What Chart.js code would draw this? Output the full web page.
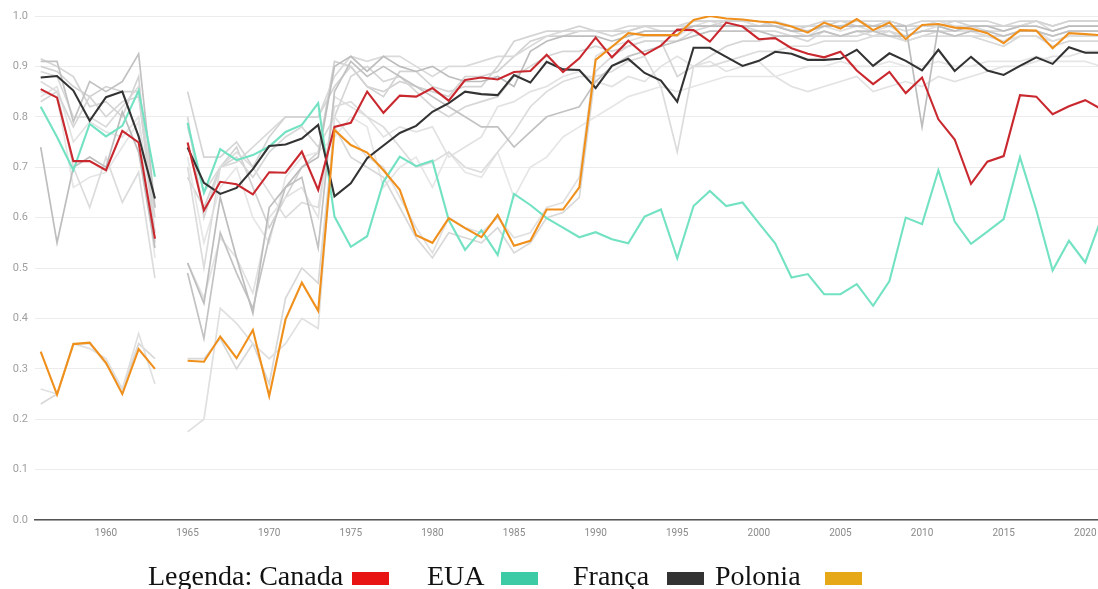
<!DOCTYPE html>
<html>
<head>
<meta charset="utf-8">
<script src="https://cdn.jsdelivr.net/npm/chart.js@4/dist/chart.umd.min.js"></script>
<style>
  html, body { margin: 0; padding: 0; background: #fff; }
  #wrap { position: relative; width: 1098px; height: 589px; }
</style>
</head>
<body>
<div id="wrap"><canvas id="chart"></canvas></div>
<script>
// --- DATA ---
const years = [1956,1957,1958,1959,1960,1961,1962,1963,1964,1965,1966,1967,1968,1969,1970,1971,1972,1973,1974,1975,1976,1977,1978,1979,1980,1981,1982,1983,1984,1985,1986,1987,1988,1989,1990,1991,1992,1993,1994,1995,1996,1997,1998,1999,2000,2001,2002,2003,2004,2005,2006,2007,2008,2009,2010,2011,2012,2013,2014,2015,2016,2017,2018,2019,2020,2021];
const xTicks = [1960,1965,1970,1975,1980,1985,1990,1995,2000,2005,2010,2015,2020];

const canada = [0.855,0.838,0.712,0.712,0.694,0.772,0.749,0.558, null,
  0.749,0.614,0.671,0.666,0.646,0.690,0.689,0.731,0.655,0.780,
  0.788,0.850,0.808,0.842,0.840,0.857,0.832,0.873,0.878,0.874,
  0.889,0.891,0.923,0.889,0.916,0.957,0.918,0.951,0.923,0.941,
  0.973,0.972,0.949,0.987,0.979,0.954,0.956,0.936,0.925,0.918,
  0.929,0.892,0.865,0.889,0.847,0.878,0.795,0.755,0.667,0.711,
  0.722,0.843,0.840,0.805,0.821,0.833,0.815];

const eua = [0.820,0.760,0.694,0.786,0.761,0.782,0.852,0.681, null,
  0.788,0.649,0.736,0.714,0.724,0.741,0.770,0.784,0.827,0.602,
  0.542,0.563,0.671,0.721,0.702,0.713,0.595,0.536,0.575,0.526,
  0.647,0.625,0.599,0.580,0.561,0.571,0.557,0.549,0.602,0.616,
  0.519,0.623,0.653,0.623,0.630,0.589,0.549,0.481,0.488,0.448,
  0.448,0.468,0.425,0.474,0.600,0.587,0.694,0.592,0.548,0.572,
  0.597,0.720,0.615,0.495,0.554,0.511,0.600];

const franca = [0.878,0.881,0.852,0.792,0.839,0.850,0.761,0.638, null,
  0.739,0.669,0.647,0.659,0.696,0.742,0.745,0.757,0.784,0.642,
  0.668,0.718,0.743,0.768,0.782,0.810,0.827,0.850,0.845,0.843,
  0.883,0.868,0.909,0.894,0.893,0.857,0.901,0.915,0.887,0.872,
  0.830,0.937,0.937,0.919,0.901,0.911,0.929,0.925,0.913,0.913,
  0.915,0.933,0.901,0.926,0.911,0.892,0.933,0.891,0.919,0.892,
  0.883,0.901,0.918,0.905,0.938,0.927,0.927];

const polonia = [0.334,0.249,0.349,0.352,0.312,0.250,0.339,0.300, null,
  0.316,0.314,0.364,0.321,0.377,0.246,0.398,0.471,0.415,0.774,
  0.744,0.729,0.694,0.655,0.565,0.550,0.599,0.579,0.561,0.605,
  0.544,0.554,0.616,0.616,0.660,0.913,0.939,0.966,0.962,0.962,
  0.962,0.992,1.000,0.995,0.993,0.989,0.987,0.979,0.967,0.987,
  0.975,0.994,0.972,0.987,0.954,0.982,0.984,0.977,0.975,0.966,
  0.946,0.972,0.971,0.936,0.966,0.964,0.962];

// other countries (grey background)
const g1 = [0.74,0.55,0.70,0.72,0.70,0.81,0.73,0.54, null,
  0.51,0.43,0.64,0.52,0.41,0.62,0.66,0.70,0.72,0.90,
  0.92,0.89,0.92,0.90,0.89,0.90,0.88,0.87,0.87,0.88,
  0.86,0.93,0.95,0.96,0.96,0.96,0.95,0.96,0.97,0.97,
  0.97,0.98,0.98,0.98,0.98,0.98,0.98,0.97,0.97,0.98,
  0.98,0.98,0.98,0.98,0.98,0.78,0.98,0.97,0.98,0.98,
  0.97,0.98,0.98,0.97,0.98,0.98,0.98];
const g2 = [0.91,0.91,0.79,0.87,0.85,0.87,0.925,0.62, null,
  0.49,0.36,0.57,0.49,0.42,0.56,0.66,0.68,0.54,0.85,
  0.91,0.88,0.90,0.88,0.86,0.84,0.82,0.80,0.78,0.78,
  0.74,0.77,0.80,0.81,0.82,0.87,0.90,0.92,0.93,0.94,
  0.95,0.96,0.97,0.97,0.97,0.97,0.96,0.96,0.96,0.97,
  0.96,0.97,0.97,0.96,0.96,0.97,0.97,0.96,0.97,0.97,
  0.96,0.97,0.97,0.96,0.97,0.97,0.97];
const g3 = [0.915,0.90,0.88,0.82,0.83,0.80,0.88,0.55, null,
  0.85,0.72,0.72,0.75,0.70,0.76,0.80,0.80,0.80,0.86,
  0.90,0.86,0.84,0.89,0.89,0.86,0.85,0.86,0.86,0.90,
  0.95,0.96,0.97,0.97,0.98,0.97,0.96,0.97,0.98,0.98,
  0.98,0.99,0.99,0.99,0.99,0.99,0.98,0.98,0.98,0.99,
  0.99,0.99,0.99,0.99,0.98,0.99,0.99,0.99,0.99,0.99,
  0.98,0.99,0.99,0.98,0.99,0.99,0.99];
const g4 = [0.87,0.85,0.70,0.62,0.72,0.63,0.69,0.48, null,
  0.70,0.50,0.70,0.73,0.70,0.65,0.60,0.63,0.62,0.82,
  0.83,0.80,0.78,0.74,0.70,0.71,0.73,0.70,0.69,0.73,
  0.77,0.82,0.85,0.87,0.88,0.88,0.89,0.91,0.92,0.86,
  0.73,0.90,0.90,0.91,0.92,0.93,0.93,0.94,0.94,0.95,
  0.95,0.95,0.96,0.96,0.95,0.96,0.96,0.96,0.96,0.96,
  0.95,0.96,0.96,0.95,0.96,0.96,0.96];
const g5 = [0.26,0.25,0.35,0.34,0.32,0.26,0.37,0.27, null,
  0.175,0.20,0.42,0.39,0.35,0.32,0.35,0.40,0.38,0.80,
  0.76,0.72,0.70,0.64,0.58,0.53,0.60,0.58,0.57,0.60,
  0.56,0.57,0.62,0.63,0.68,0.92,0.94,0.95,0.96,0.96,
  0.96,0.98,0.99,0.99,0.99,0.98,0.98,0.97,0.96,0.98,
  0.97,0.98,0.97,0.98,0.96,0.97,0.98,0.97,0.97,0.96,
  0.95,0.97,0.97,0.95,0.96,0.96,0.96];
const g6 = [0.23,0.25,0.35,0.35,0.31,0.26,0.35,0.32, null,
  0.32,0.32,0.36,0.30,0.35,0.27,0.44,0.50,0.47,0.78,
  0.72,0.70,0.68,0.62,0.56,0.52,0.57,0.56,0.55,0.58,
  0.53,0.55,0.60,0.61,0.64,0.89,0.92,0.94,0.95,0.95,
  0.95,0.97,0.98,0.98,0.98,0.97,0.97,0.96,0.95,0.97,
  0.96,0.97,0.96,0.97,0.95,0.96,0.97,0.96,0.96,0.95,
  0.94,0.96,0.96,0.94,0.95,0.95,0.95];
const g7 = [0.83,0.85,0.78,0.84,0.80,0.83,0.84,0.60, null,
  0.80,0.60,0.70,0.72,0.68,0.73,0.76,0.78,0.74,0.80,
  0.88,0.90,0.87,0.88,0.85,0.82,0.80,0.82,0.83,0.84,
  0.88,0.90,0.92,0.93,0.93,0.94,0.93,0.94,0.95,0.95,
  0.88,0.90,0.92,0.94,0.95,0.95,0.96,0.96,0.96,0.96,
  0.96,0.96,0.97,0.97,0.96,0.97,0.97,0.97,0.97,0.96,
  0.96,0.97,0.97,0.96,0.97,0.97,0.97];
const g8 = [0.85,0.84,0.66,0.68,0.69,0.74,0.79,0.52, null,
  0.72,0.55,0.66,0.70,0.60,0.55,0.68,0.72,0.73,0.76,
  0.80,0.78,0.66,0.70,0.72,0.66,0.73,0.69,0.68,0.73,
  0.64,0.70,0.72,0.76,0.78,0.80,0.82,0.84,0.85,0.86,
  0.85,0.86,0.87,0.88,0.88,0.88,0.88,0.89,0.90,0.90,
  0.91,0.90,0.90,0.91,0.90,0.90,0.91,0.90,0.90,0.91,
  0.91,0.91,0.92,0.91,0.91,0.91,0.90];
const g9 = [0.89,0.88,0.80,0.80,0.78,0.82,0.86,0.62, null,
  0.78,0.65,0.70,0.71,0.74,0.77,0.80,0.80,0.80,0.88,
  0.92,0.91,0.92,0.92,0.90,0.88,0.90,0.90,0.91,0.92,
  0.92,0.94,0.96,0.97,0.97,0.97,0.97,0.98,0.98,0.97,
  0.97,0.99,0.99,0.98,0.98,0.98,0.99,0.98,0.97,0.98,
  0.98,0.99,0.98,0.98,0.97,0.98,0.99,0.98,0.98,0.97,
  0.97,0.98,0.99,0.97,0.98,0.98,0.98];
const g10 = [0.84,0.86,0.75,0.79,0.77,0.76,0.80,0.57, null,
  0.51,0.44,0.56,0.52,0.45,0.60,0.64,0.66,0.60,0.84,
  0.82,0.80,0.76,0.78,0.77,0.78,0.72,0.74,0.76,0.82,
  0.83,0.85,0.86,0.88,0.89,0.87,0.86,0.88,0.87,0.90,
  0.92,0.90,0.91,0.89,0.90,0.91,0.88,0.86,0.85,0.86,
  0.87,0.88,0.85,0.86,0.87,0.86,0.88,0.87,0.88,0.89,
  0.90,0.90,0.91,0.92,0.92,0.93,0.93];
const g11 = [0.90,0.89,0.86,0.84,0.86,0.85,0.85,0.57, null,
  0.68,0.62,0.70,0.74,0.66,0.58,0.64,0.70,0.73,0.91,
  0.90,0.86,0.85,0.87,0.86,0.85,0.84,0.88,0.88,0.89,
  0.92,0.95,0.96,0.96,0.97,0.97,0.97,0.97,0.98,0.98,
  0.98,0.98,0.98,0.99,0.99,0.98,0.98,0.97,0.98,0.98,
  0.99,0.98,0.98,0.99,0.98,0.98,0.98,0.99,0.98,0.98,
  0.98,0.98,0.99,0.98,0.99,0.99,0.99];

const greySeries = [g1, g2, g3, g4, g5, g6, g7, g8, g9, g10, g11];
const greyColors = ["#bdbdbd","#c2c2c2","#d4d4d4","#dcdcdc","#e0e0e0","#d8d8d8","#d6d6d6","#e6e6e6","#dadada","#e2e2e2","#d2d2d2"];

// --- HELPERS ---
function points(vals) {
  return vals.map((v, i) => ({ x: years[i], y: v }));
}

function lineSet(label, vals, color, width, order) {
  return {
    label,
    data: points(vals),
    borderColor: color,
    backgroundColor: color,
    borderWidth: width,
    pointRadius: 0,
    tension: 0,
    spanGaps: false,
    order
  };
}

const datasets = [
  lineSet("Polonia", polonia, "#f0901c", 2.1, 0),
  lineSet("Canada", canada, "#c8282e", 2.1, 1),
  lineSet("França", franca, "#333333", 2.1, 2),
  lineSet("EUA", eua, "#72e2c2", 2.1, 3)
];
greySeries.forEach((g, i) => datasets.push(lineSet("g" + (i + 1), g, greyColors[i], 1.7, 10)));

// --- LEGEND (drawn under the chart) ---
const legendPlugin = {
  id: "bottomLegend",
  afterDraw(chart) {
    const ctx = chart.ctx;
    const items = [
      { text: "Legenda: Canada", x: 148, box: 352, color: "#e81414" },
      { text: "EUA", x: 427, box: 501, color: "#3dcba6" },
      { text: "França", x: 573, box: 667, color: "#333333" },
      { text: "Polonia", x: 715, box: 825, color: "#e6a817" }
    ];
    ctx.save();
    ctx.font = "28px 'Liberation Serif'";
    ctx.textBaseline = "alphabetic";
    items.forEach(it => {
      ctx.fillStyle = "#111";
      ctx.fillText(it.text, it.x, 585);
      ctx.fillStyle = it.color;
      ctx.fillRect(it.box, 572, 37, 13);
    });
    ctx.restore();
  }
};

// --- CHART ---
new Chart(document.getElementById("chart"), {
  type: "line",
  data: { datasets },
  options: {
    responsive: true,
    maintainAspectRatio: false,
    animation: false,
    layout: { padding: { top: 16, right: 0, left: 0, bottom: 0 } },
    plugins: {
      legend: { display: false },
      tooltip: { enabled: false }
    },
    scales: {
      x: {
        type: "linear",
        min: 1955.65,
        max: 2020.78,
        afterBuildTicks: s => { s.ticks = xTicks.map(v => ({ value: v })); },
        afterFit: s => { s.height = 69; },
        // invisible tick marks give the label gap without extra right padding
        grid: { display: false, drawTicks: true, tickLength: 7 },
        border: { display: true, color: "#555", width: 1.5 },
        ticks: {
          padding: 0,
          color: "#8a8a8a",
          font: { family: "Roboto", size: 10 },
          callback: v => String(v),
          maxRotation: 0
        }
      },
      y: {
        min: 0,
        max: 1,
        afterFit: s => { s.width = 35; },
        grid: { color: "#ececec", lineWidth: 1, drawTicks: false },
        border: { display: false },
        ticks: {
          stepSize: 0.1,
          padding: 7,
          color: "#a0a0a0",
          font: { family: "Roboto", size: 11 },
          callback: v => v.toFixed(1)
        }
      }
    }
  },
  plugins: [legendPlugin]
});
</script>
</body>
</html>
